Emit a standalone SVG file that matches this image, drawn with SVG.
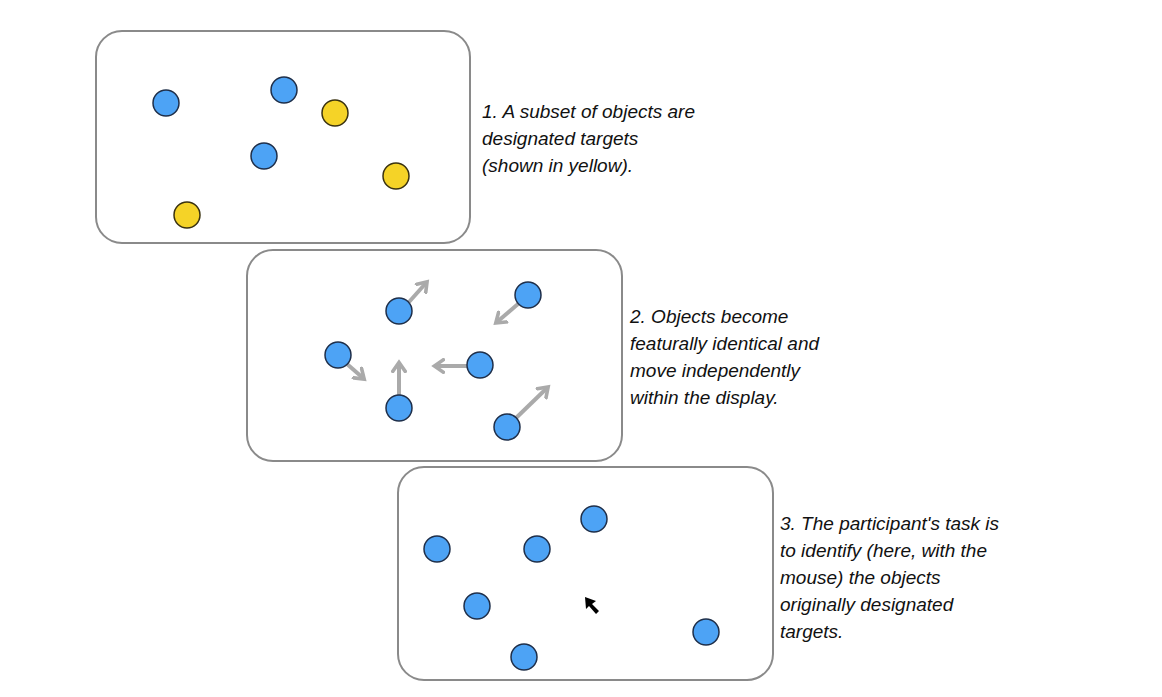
<svg xmlns="http://www.w3.org/2000/svg" width="1162" height="697" viewBox="0 0 1162 697">
<defs>
<style>
.p{fill:#fff;stroke:#8a8a8a;stroke-width:2}
.b{fill:#4da3f5;stroke:#1f2f4a;stroke-width:1.5}
.y{fill:#f5d327;stroke:#3a3210;stroke-width:1.5}
.a{stroke:#aaaaaa;stroke-width:4;fill:none;marker-end:url(#ah)}
text{font-family:"Liberation Sans",Arial,sans-serif;font-style:italic;font-size:19px;fill:#111}
</style>
<marker id="ah" markerWidth="4" markerHeight="4" refX="2.2" refY="2" orient="auto" markerUnits="strokeWidth"><path d="M0,0.2 L2.6,2 L0,3.8" fill="none" stroke="#aaaaaa" stroke-width="0.9"/></marker>
</defs>
<rect width="1162" height="697" fill="#fff"/>
<g id="panel1">
<rect class="p" x="96" y="31" width="374" height="212" rx="26"/>
<circle class="b" cx="166" cy="103" r="13"/><circle class="b" cx="284" cy="90" r="13"/>
<circle class="y" cx="335" cy="113" r="13"/><circle class="b" cx="264" cy="156" r="13"/>
<circle class="y" cx="396" cy="176" r="13"/><circle class="y" cx="187" cy="215" r="13"/>
<text x="482" y="118">1. A subset of objects are</text>
<text x="482" y="145">designated targets</text>
<text x="482" y="172">(shown in yellow).</text>
</g>
<g id="panel2">
<rect class="p" x="247" y="250" width="375" height="211" rx="26"/>
<g id="connectors">
<line class="a" x1="409" y1="302" x2="426" y2="283"/>
<line class="a" x1="518" y1="304" x2="497" y2="322"/>
<line class="a" x1="347" y1="364" x2="363" y2="378"/>
<line class="a" x1="399" y1="395" x2="399" y2="364"/>
<line class="a" x1="467" y1="366" x2="436" y2="366"/>
<line class="a" x1="516" y1="418" x2="547" y2="388"/>
</g>
<circle class="b" cx="399" cy="311" r="13"/><circle class="b" cx="528" cy="295" r="13"/>
<circle class="b" cx="338" cy="355" r="13"/><circle class="b" cx="480" cy="365" r="13"/>
<circle class="b" cx="399" cy="408" r="13"/><circle class="b" cx="507" cy="427" r="13"/>
<text x="630" y="323">2. Objects become</text>
<text x="630" y="350">featurally identical and</text>
<text x="630" y="377">move independently</text>
<text x="630" y="404">within the display.</text>
</g>
<g id="panel3">
<rect class="p" x="398" y="467" width="375" height="213" rx="26"/>
<circle class="b" cx="594" cy="519" r="13"/><circle class="b" cx="437" cy="549" r="13"/>
<circle class="b" cx="537" cy="549" r="13"/><circle class="b" cx="477" cy="606" r="13"/>
<circle class="b" cx="706" cy="632" r="13"/><circle class="b" cx="524" cy="657" r="13"/>
<path d="M585,597 L586,609 L589,606 L596,614 L599,611 L592,604 L596,601 Z" fill="#000"/>
<text x="780" y="530">3. The participant's task is</text>
<text x="780" y="557">to identify (here, with the</text>
<text x="780" y="584">mouse) the objects</text>
<text x="780" y="611">originally designated</text>
<text x="780" y="638">targets.</text>
</g>
</svg>
